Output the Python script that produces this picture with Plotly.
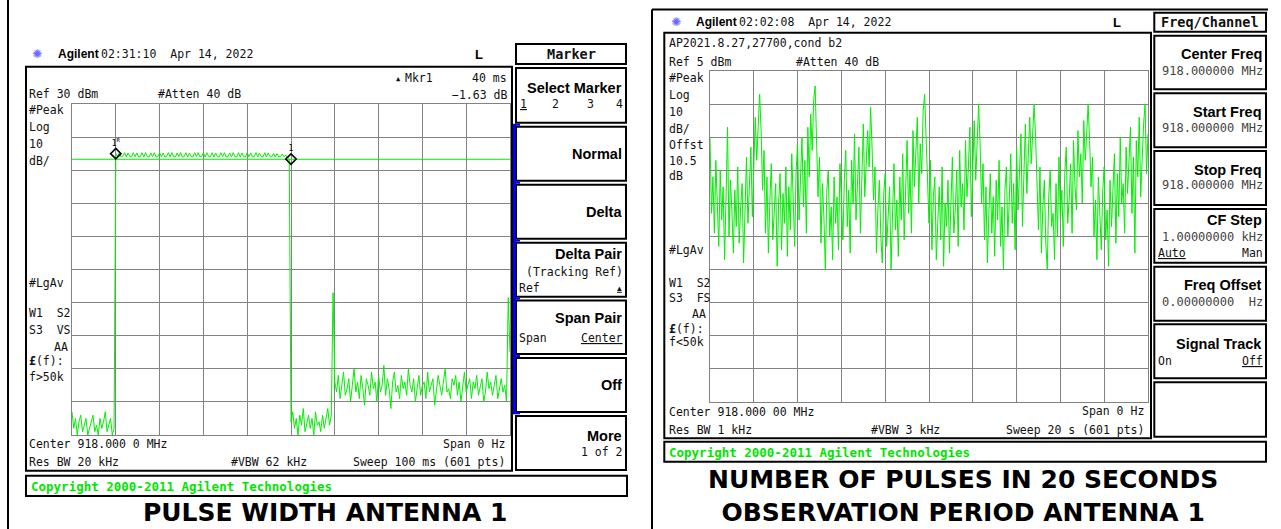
import numpy as np
import plotly.graph_objects as go

# ---------------------------------------------------------------- data
# Left screen: zero-span sweep, 100 ms, Ref 30 dBm, 10 dB/div
LEFT_SWEEP_MS = 100
LEFT_REF_DBM = 30
LEFT_DB_PER_DIV = 10
left_noise_a = [-63, -68, -65, -70, -66, -64, -69, -67, -65, -70, -68, -66, -64,
                -69, -67, -70, -65, -68, -66, -63, -69, -67, -65, -70, -68]
left_pulse = [15.0, 14.1, 15.3, 14.0, 14.2, 15.3, 14.0, 15.2, 14.1, 14.0, 15.3, 14.1, 15.2, 14.0, 14.1, 15.3, 14.0, 15.3, 14.2, 14.0,
              15.2, 14.1, 15.3, 14.0, 14.1, 15.3, 14.1, 15.2, 14.0, 14.2, 15.3, 14.0, 15.3, 14.1, 14.0, 15.2, 14.1, 15.3, 14.0, 14.1,
              15.3, 14.0, 15.2, 14.1, 14.0, 15.3, 14.1, 15.3, 14.0, 14.2, 15.2, 14.0, 15.3, 14.1, 14.0, 15.3, 14.0, 15.2, 14.1, 14.0,
              15.3, 14.1, 15.3, 14.0, 14.1, 15.2, 14.0, 15.3, 14.1, 14.0, 15.3, 14.0, 15.2, 14.1, 14.0, 15.3, 14.1, 15.2, 14.0, 14.1,
              15.3, 14.0, 15.2, 14.1, 14.0, 15.3, 14.0, 15.2, 14.1, 14.0, 15.1, 14.0, 15.0, 14.0, 14.1, 14.9, 14.0, 14.6, 13.9, 13.4]
left_noise_c = [-66, -63, -68, -65, -70, -64, -67, -62, -69, -66, -64, -68, -65, -70,
                -63, -67, -66, -69, -64, -68, -65, -62, -67, -64, -27]
left_noise_d = [-54, -57, -52, -59, -55, -51, -58, -56, -53, -60, -55, -50, -57, -54, -59, -52, -56, -61, -53, -55,
                -58, -51, -56, -54, -60, -52, -57, -55, -49, -58, -53, -56, -62, -54, -51, -57, -55, -59, -52, -56,
                -54, -58, -50, -55, -57, -53, -60, -56, -52, -58, -55, -54, -59, -51, -57, -55, -53, -61, -56, -52,
                -55, -58, -54, -50, -57, -56, -59, -53, -55, -52, -58, -54, -60, -56, -51, -57, -55, -53, -59, -54,
                -56, -52, -58, -55, -53, -60, -57, -51, -56, -54, -58, -55, -52, -59, -56, -53, -57, -55, -60, -28.5, -45]
left_trace_dbm = left_noise_a + left_pulse + left_noise_c + left_noise_d
left_marker_ms = [10.0, 50.0]
left_marker_dbm = [15.0, 13.37]
left_marker_labels = ["1<sup>R</sup>", "1"]
left_display_line_dbm = 13.3

# Right screen: zero-span sweep, 20 s, Ref 5 dBm, 10 dB/div
RIGHT_SWEEP_S = 20
RIGHT_REF_DBM = 5
RIGHT_DB_PER_DIV = 10
right_trace_dbm = [
    -15, -38, -27, -44, -22, -35, -48, -25, -40, -30, -52, -33, -12, -45, -28, -37, -50, -31, -42, -24,
    -47, -36, -29, -53, -34, -21, -41, -30, -18, -39, -26, -9, -22, -14, -2,
    -13, -31, -19, -44, -27, -50, -34, -23, -46, -38, -29, -54, -35, -26, -49, -32, -41, -24, -51, -30,
    -43, -20, -37, -48, -25, -17, -40, -28, -15, -36, -22, -44, -12, -27, -8, -19, -4, 0.5,
    -16, -33, -21, -47, -29, -39, -55, -31, -25, -45, -36, -52, -27, -41, -33, -49, -23, -38, -46, -28,
    -19, -42, -31, -50, -22, -35, -14, -40, -26, -18, -44, -29, -11, -33, -21, -13, -24, -6,
    -18, -34, -24, -50, -37, -28, -45, -53, -32, -26, -48, -39, -30, -55, -36, -23, -43, -34, -51, -27,
    -40, -20, -46, -31, -16, -38, -25, -44, -13, -30, -21, -9, -35, -17, -26, -7, -2,
    -14, -29, -41, -22, -49, -33, -27, -52, -38, -30, -46, -24, -54, -35, -42, -28, -50, -32, -21, -44,
    -37, -25, -48, -19, -36, -29, -43, -16, -33, -24, -12, -39, -20, -10, -28, -15, -5,
    -17, -35, -23, -46, -30, -53, -38, -26, -44, -33, -51, -28, -40, -22, -48, -36, -55, -31, -24, -45,
    -34, -20, -41, -29, -49, -18, -37, -25, -14, -42, -27, -11, -32, -19, -9, -23, -13, -5,
    -15, -32, -43, -24, -50, -36, -28, -47, -55, -33, -25, -42, -38, -52, -29, -45, -21, -39, -31, -48,
    -26, -18, -41, -34, -23, -44, -16, -30, -37, -13, -27, -20, -35, -10, -22, -14, -5,
    -16, -30, -21, -45, -34, -52, -27, -40, -49, -31, -24, -46, -37, -54, -28, -42, -33, -20, -47, -26,
    -39, -15, -35, -29, -44, -18, -32, -24, -12, -38, -21, -50, -16, -27, -9, -33, -19, -11, -5, -26, -14]

# ---------------------------------------------------------------- style
W, H = 1281, 529
MONO = "DejaVu Sans Mono, Liberation Mono, monospace"
SANSB = "Liberation Sans, Arial, sans-serif"
CAPF = "DejaVu Sans, sans-serif"
GRID = "#828282"
GREEN = "#00f000"
TXT = "#111111"


def dom_x(a, b):
    return [a / W, b / W]


def dom_y(top, bottom):
    return [1 - bottom / H, 1 - top / H]


fig = go.Figure()
# invisible trace to anchor the full-page pixel axes used for frames/text
fig.add_trace(go.Scatter(x=[0], y=[0], mode="markers", marker=dict(opacity=0),
                         hoverinfo="skip", showlegend=False))

# left trace
lt = np.linspace(0, LEFT_SWEEP_MS, len(left_trace_dbm))
fig.add_trace(go.Scatter(x=[0, LEFT_SWEEP_MS], y=[left_display_line_dbm] * 2, xaxis="x2", yaxis="y2",
                         mode="lines", line=dict(color=GREEN, width=1), hoverinfo="skip", showlegend=False))
fig.add_trace(go.Scatter(x=lt, y=left_trace_dbm, xaxis="x2", yaxis="y2", mode="lines",
                         line=dict(color=GREEN, width=1), hoverinfo="skip", showlegend=False))
fig.add_trace(go.Scatter(x=left_marker_ms, y=left_marker_dbm, xaxis="x2", yaxis="y2",
                         mode="markers+text", text=left_marker_labels, textposition="top center",
                         textfont=dict(family=MONO, size=8, color="black"),
                         marker=dict(symbol="diamond-open", size=8, color="black",
                                     line=dict(width=1.6, color="black")),
                         hoverinfo="skip", showlegend=False))

# right trace
rt = np.linspace(0, RIGHT_SWEEP_S, len(right_trace_dbm))
fig.add_trace(go.Scatter(x=rt, y=right_trace_dbm, xaxis="x3", yaxis="y3", mode="lines",
                         line=dict(color=GREEN, width=1), hoverinfo="skip", showlegend=False))

ax = dict(showgrid=True, gridcolor=GRID, gridwidth=1, zeroline=False, showticklabels=False,
          ticks="", showline=True, linecolor=GRID, linewidth=1, mirror=True, fixedrange=True)

fig.update_layout(
    width=W, height=H, margin=dict(l=0, r=0, t=0, b=0), autosize=False,
    paper_bgcolor="white", plot_bgcolor="rgba(0,0,0,0)", showlegend=False,
    xaxis=dict(domain=[0, 1], range=[0, W], visible=False, fixedrange=True),
    yaxis=dict(domain=[0, 1], range=[H, 0], visible=False, fixedrange=True),
    xaxis2=dict(domain=dom_x(72, 510), range=[0, LEFT_SWEEP_MS], tick0=0, dtick=LEFT_SWEEP_MS / 10,
                anchor="y2", **ax),
    yaxis2=dict(domain=dom_y(104, 435), range=[LEFT_REF_DBM - 10 * LEFT_DB_PER_DIV, LEFT_REF_DBM],
                tick0=LEFT_REF_DBM, dtick=LEFT_DB_PER_DIV, anchor="x2", **ax),
    xaxis3=dict(domain=dom_x(710, 1148), range=[0, RIGHT_SWEEP_S], tick0=0, dtick=RIGHT_SWEEP_S / 10,
                anchor="y3", **ax),
    yaxis3=dict(domain=dom_y(71, 402), range=[RIGHT_REF_DBM - 10 * RIGHT_DB_PER_DIV, RIGHT_REF_DBM],
                tick0=RIGHT_REF_DBM, dtick=RIGHT_DB_PER_DIV, anchor="x3", **ax),
)

shapes = []
ann = []


def rect(x0, y0, x1, y1, w=2, color="black"):
    shapes.append(dict(type="rect", xref="x", yref="y", x0=x0, y0=y0, x1=x1, y1=y1,
                       line=dict(color=color, width=w), fillcolor="rgba(0,0,0,0)", layer="above"))


def line(x0, y0, x1, y1, w=2, color="black"):
    shapes.append(dict(type="line", xref="x", yref="y", x0=x0, y0=y0, x1=x1, y1=y1,
                       line=dict(color=color, width=w), layer="above"))


def t(x, y, s, anchor="left", size=11.5, family=MONO, color=TXT, yanchor="middle"):
    ann.append(dict(x=x, y=y, xref="x", yref="y", text=s, showarrow=False, xanchor=anchor,
                    yanchor=yanchor, font=dict(family=family, size=size, color=color)))


# ---------------- outer frames
line(8, 0, 8, H, w=2)
line(652, 9.5, 652, H, w=2)
line(652, 9.5, 1268, 9.5, w=2)

# ---------------- LEFT instrument screen
rect(26, 66.7, 512, 470.7)
rect(26, 475.7, 627, 496)
# softkeys
rect(516, 44, 626, 64)
rect(516, 68, 626, 122.7)
for y0, y1 in [(126.7, 180.7), (184.7, 238.7), (242.7, 296.7), (300.5, 354), (358, 412), (416, 470)]:
    rect(516, y0, 626, y1)
BLUE = "#0000ee"
line(514.5, 124.5, 514.5, 413.5, w=3, color=BLUE)
for yb in [124.8, 182.7, 240.7, 298.6, 356.1, 413.3]:
    line(513, yb, 520, yb, w=2, color=BLUE)

t(37, 54, "✺", anchor="center", size=12, family="DejaVu Sans, sans-serif", color="#6c6cf5")
t(56, 54, "<b>Agilent</b>", size=12, family=SANSB, color="black")
t(99, 54, "02:31:10  Apr 14, 2022")
t(479, 54.5, "<b>L</b>", anchor="center", size=13, family=SANSB, color="black")
t(571, 54, "<b>Marker</b>", anchor="center", size=13.5)

t(398, 78.5, "▲", anchor="center", size=7)
t(403, 78, "Mkr1")
t(509, 78, "40 ms", anchor="right")
t(509, 95, "−1.63 dB", anchor="right")
t(27, 94, "Ref 30 dBm")
t(156, 94, "#Atten 40 dB")
for yy, s in [(110, "#Peak"), (127, "Log"), (144, "10"), (161, "dB/"), (283, "#LgAv"),
              (313, "W1  S2"), (330, "S3  VS"), (361, "<b>£</b>(f):"), (377, "f>50k")]:
    t(27, yy, s)
t(70, 347, "AA", anchor="right")
t(27, 444, "Center 918.000 0 MHz")
t(507, 444, "Span 0 Hz", anchor="right")
t(27, 462, "Res BW 20 kHz")
t(229, 462, "#VBW 62 kHz")
t(507, 462, "Sweep 100 ms (601 pts)", anchor="right")
t(29, 486, "<b>Copyright 2000-2011 Agilent Technologies</b>", size=12.5, color="#00e600")

SK = 14.5
t(624, 88, "<b>Select Marker</b>", anchor="right", size=SK, family=SANSB, color="black")
t(518, 104, "<u>1</u>")
t(555, 104, "2", anchor="center")
t(590, 104, "3", anchor="center")
t(625, 104, "4", anchor="right")
t(624, 154, "<b>Normal</b>", anchor="right", size=SK, family=SANSB, color="black")
t(624, 212, "<b>Delta</b>", anchor="right", size=SK, family=SANSB, color="black")
t(624, 254, "<b>Delta Pair</b>", anchor="right", size=SK, family=SANSB, color="black")
t(625, 272, "(Tracking Ref)", anchor="right")
t(517, 288, "Ref")
t(624, 288, "<u>▲</u>", anchor="right", size=8)
t(624, 318, "<b>Span Pair</b>", anchor="right", size=SK, family=SANSB, color="black")
t(517, 338, "Span")
t(625, 338, "<u>Center</u>", anchor="right")
t(624, 385, "<b>Off</b>", anchor="right", size=SK, family=SANSB, color="black")
t(624, 436, "<b>More</b>", anchor="right", size=SK, family=SANSB, color="black")
t(625, 452, "1 of 2", anchor="right")

t(325, 529, "<b>PULSE WIDTH ANTENNA 1</b>", anchor="center", size=25, family=CAPF, color="black",
  yanchor="bottom")

# ---------------- RIGHT instrument screen
rect(664.3, 32.7, 1151, 438.3)
rect(664.3, 441.7, 1266, 461.7)
rect(1154.3, 12.7, 1266, 31.7)
for y0, y1 in [(35.7, 89.3), (93.3, 147.3), (151, 205), (209, 262.7), (266.7, 320.7), (324.3, 378.3),
               (382.3, 436.7)]:
    rect(1154.3, y0, 1266, y1)

t(676, 22, "✺", anchor="center", size=12, family="DejaVu Sans, sans-serif", color="#6c6cf5")
t(694, 22, "<b>Agilent</b>", size=12, family=SANSB, color="black")
t(737, 22, "02:02:08  Apr 14, 2022")
t(1117, 22, "<b>L</b>", anchor="center", size=13, family=SANSB, color="black")
t(1210, 22, "<b>Freq/Channel</b>", anchor="center", size=13.5)

t(667, 43, "AP2021.8.27,27700,cond b2")
t(667, 62, "Ref 5 dBm")
t(794, 62, "#Atten 40 dB")
for yy, s in [(78, "#Peak"), (95, "Log"), (112, "10"), (129, "dB/"), (145, "Offst"), (160.5, "10.5"),
              (175.5, "dB"), (249.5, "#LgAv"), (283, "W1  S2"), (298, "S3  FS"), (328.5, "<b>£</b>(f):"),
              (342, "f<50k")]:
    t(667, yy, s)
t(708, 313.5, "AA", anchor="right")
t(667, 412, "Center 918.000 00 MHz")
t(1146, 411, "Span 0 Hz", anchor="right")
t(667, 430, "Res BW 1 kHz")
t(869, 430, "#VBW 3 kHz")
t(1146, 429.5, "Sweep 20 s (601 pts)", anchor="right")
t(667, 452, "<b>Copyright 2000-2011 Agilent Technologies</b>", size=12.5, color="#00e600")

t(1264, 54, "<b>Center Freq</b>", anchor="right", size=SK, family=SANSB, color="black")
t(1265, 71, "918.000000 MHz", anchor="right", size=12, color="#444444")
t(1264, 112, "<b>Start Freq</b>", anchor="right", size=SK, family=SANSB, color="black")
t(1265, 128, "918.000000 MHz", anchor="right", size=12, color="#444444")
t(1264, 170, "<b>Stop Freq</b>", anchor="right", size=SK, family=SANSB, color="black")
t(1265, 184.5, "918.000000 MHz", anchor="right", size=12, color="#444444")
t(1264, 220, "<b>CF Step</b>", anchor="right", size=SK, family=SANSB, color="black")
t(1265, 237, "1.00000000 kHz", anchor="right", size=12, color="#444444")
t(1156, 252.5, "<u>Auto</u>")
t(1265, 252.5, "Man", anchor="right")
t(1264, 285, "<b>Freq Offset</b>", anchor="right", size=SK, family=SANSB, color="black")
t(1265, 302, "0.00000000  Hz", anchor="right", size=12, color="#444444")
t(1264, 343.5, "<b>Signal Track</b>", anchor="right", size=SK, family=SANSB, color="black")
t(1156, 361, "On")
t(1265, 361, "<u>Off</u>", anchor="right")

t(962.5, 529, "<b>NUMBER OF PULSES IN 20 SECONDS</b><br><b>OBSERVATION PERIOD ANTENNA 1</b>",
  anchor="center", size=25, family=CAPF, color="black", yanchor="bottom")

fig.update_layout(shapes=shapes, annotations=ann)
fig.write_html("out.html")
